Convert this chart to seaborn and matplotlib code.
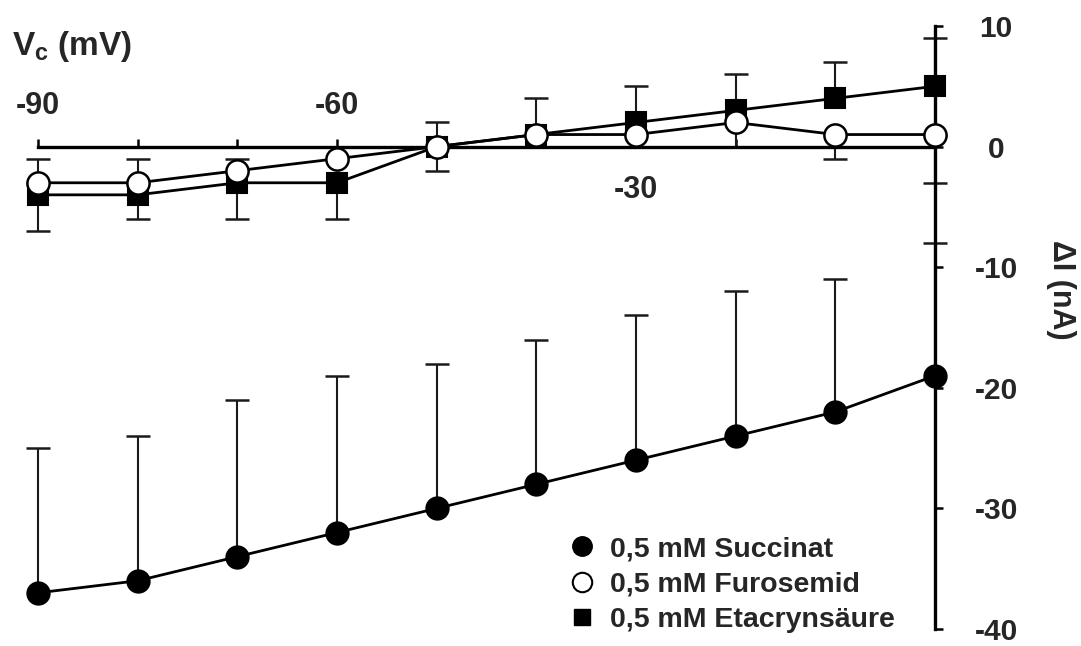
import numpy as np
import matplotlib
matplotlib.use("Agg")
import matplotlib.pyplot as plt
from matplotlib.lines import Line2D
import seaborn as sns

# clamp voltage (mV)
vc = [-90, -80, -70, -60, -50, -40, -30, -20, -10, 0]

# current change (nA) per blocker
succinat = [-37, -36, -34, -32, -30, -28, -26, -24, -22, -19]
succinat_err_up = [12, 12, 13, 13, 12, 12, 12, 12, 11, 11]
succinat_err_down = [0, 0, 0, 0, 0, 0, 0, 0, 0, 0]

furosemid = [-3, -3, -2, -1, 0, 1, 1, 2, 1, 1]
furosemid_err_up = [2, 2, 1, 1, 2, 0, 0, 0, 0, 0]
furosemid_err_down = [0, 0, 0, 0, 2, 0, 0, 2, 2, 4]

etacryn = [-4, -4, -3, -3, 0, 1, 2, 3, 4, 5]
etacryn_err_up = [0, 0, 0, 0, 0, 3, 3, 3, 3, 4]
etacryn_err_down = [3, 2, 3, 3, 0, 0, 0, 0, 0, 0]

labels = ["0,5 mM Succinat", "0,5 mM Furosemid", "0,5 mM Etacrynsäure"]
yticks = [10, 0, -10, -20, -30, -40]

sns.set_theme(style="white")
plt.rcParams["font.family"] = ["Liberation Sans", "DejaVu Sans"]
plt.rcParams["font.weight"] = "bold"
plt.rcParams["mathtext.fontset"] = "custom"
plt.rcParams["mathtext.rm"] = "Liberation Sans:bold"
plt.rcParams["mathtext.bf"] = "Liberation Sans:bold"

fig = plt.figure(figsize=(10.81, 6.46), dpi=100)
W, H = 1081, 646
ax = fig.add_axes([38 / W, 1 - 629 / H, (935 - 38) / W, (629 - 26) / H])
ax.set_xlim(-90, 0)
ax.set_ylim(-40, 10)


def errbars(x, y, up, down):
    x = np.array(x, float)
    y = np.array(y, float)
    up = np.array(up, float)
    down = np.array(down, float)
    for err, sign in ((up, 1), (down, -1)):
        m = err > 0
        if not m.any():
            continue
        ends = y[m] + sign * err[m]
        ax.vlines(x[m], y[m], ends, color="k", lw=1.5, zorder=1, clip_on=False)
        ax.plot(x[m], ends, ls="none", marker="_", ms=17, mew=1.8, color="k",
                zorder=1, clip_on=False)


errbars(vc, succinat, succinat_err_up, succinat_err_down)
errbars(vc, etacryn, etacryn_err_up, etacryn_err_down)
errbars(vc, furosemid, furosemid_err_up, furosemid_err_down)

sns.lineplot(x=vc, y=succinat, ax=ax, color="black", lw=2.0, marker="o", ms=16,
             mfc="black", mec="black", mew=1.5, clip_on=False, zorder=3)
sns.lineplot(x=vc, y=etacryn, ax=ax, color="black", lw=2.0, marker="s", ms=14,
             mfc="black", mec="black", mew=1.5, clip_on=False, zorder=3)
sns.lineplot(x=vc, y=furosemid, ax=ax, color="black", lw=2.0, marker="o", ms=16,
             mfc="white", mec="black", mew=1.8, clip_on=False, zorder=4)

# axes: x axis through 0 nA, y axis at 0 mV on the right
for s in ["top", "left"]:
    ax.spines[s].set_visible(False)
ax.spines["bottom"].set_position(("data", 0))
for s in ["bottom", "right"]:
    ax.spines[s].set_linewidth(2.4)
    ax.spines[s].set_color("black")
    ax.spines[s].set_zorder(2)

ax.set_xticks(vc)
ax.set_xticklabels([])
ax.tick_params(axis="x", direction="in", length=6, width=1.8, color="black",
               bottom=True)

ax.yaxis.tick_right()
ax.set_yticks(yticks)
ax.set_yticklabels([str(t) for t in yticks], fontsize=21.5, fontweight="bold")
ax.tick_params(axis="y", direction="out", length=6, width=1.8, color="black",
               right=True, left=False, pad=38)
for lab in ax.get_yticklabels():
    lab.set_horizontalalignment("center")

# x tick labels placed above / below the axis line
for v, dy in ((-90, 29), (-60, 29), (-30, -31)):
    ax.annotate(str(v), xy=(v, 0), xytext=(0, dy), textcoords="offset points",
                ha="center", va="center", fontsize=22, fontweight="bold")

fig.text(12 / W, 1 - 46 / H, r"$\mathbf{V_c}$ (mV)", fontsize=24,
         fontweight="bold", ha="left", va="center")
fig.text(1061 / W, 1 - 290 / H, "ΔI (nA)", fontsize=22, fontweight="bold",
         rotation=-90, ha="center", va="center")

handles = [
    Line2D([], [], ls="none", marker="o", ms=14, mfc="black", mec="black"),
    Line2D([], [], ls="none", marker="o", ms=14, mfc="white", mec="black", mew=1.5),
    Line2D([], [], ls="none", marker="s", ms=12, mfc="black", mec="black"),
]
leg = fig.legend(handles, labels, loc="upper left",
                 bbox_to_anchor=(556 / W, 1 - 525 / H), frameon=False,
                 prop={"size": 20.5, "weight": "bold"}, handlelength=1.0,
                 handletextpad=0.5, labelspacing=0.33, borderaxespad=0)

fig.savefig("out.png", dpi=100, facecolor="white")
